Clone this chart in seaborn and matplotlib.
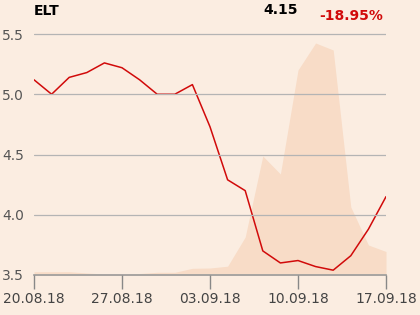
import matplotlib
matplotlib.use("Agg")
import matplotlib.pyplot as plt
import seaborn as sns
import pandas as pd
import numpy as np

# Data
price = [5.12, 5.00, 5.14, 5.18, 5.26, 5.22, 5.12, 5.00, 5.00, 5.08, 4.73,
         4.29, 4.20, 3.70, 3.60, 3.62, 3.57, 3.54, 3.66, 3.88, 4.15]
volume = [33, 33, 33, 20, 10, 10, 15, 27, 27, 67, 70,
          88, 380, 1190, 1010, 2050, 2320, 2250, 680, 300, 235]
tick_idx = [0, 5, 10, 15, 20]
tick_labels = ["20.08.18", "27.08.18", "03.09.18", "10.09.18", "17.09.18"]
y_ticks = [3.5, 4.0, 4.5, 5.0, 5.5]
ticker = "ELT"
last_price = "4.15"
change = "-18.95%"

df = pd.DataFrame({"idx": range(len(price)), "price": price, "volume": volume})

BG = "#FBEDE1"
AREA = "#F8DCC7"
RED = "#D10A0A"

sns.set_theme(style="white")
plt.rcParams['font.family'] = ['DejaVu Sans']

W, H = 420, 315
fig = plt.figure(figsize=(4.2, 3.15), dpi=100, facecolor=BG)
left, right, bottom, top = 34, 386, 275, 20
rect = [left / W, 1 - bottom / H, (right - left) / W, (bottom - top) / H]
ax2 = fig.add_axes(rect)
ax = fig.add_axes(rect, sharex=ax2)
ax2.set_facecolor(BG)
ax.patch.set_visible(False)

# Volume area (hidden axis)
ax2.fill_between(df["idx"], 0, df["volume"], color=AREA, linewidth=0)
ax2.set_ylim(0, 2550)
ax2.set_yticks([])
for s in ax2.spines.values():
    s.set_visible(False)

# Price line
sns.lineplot(data=df, x="idx", y="price", ax=ax, color=RED, linewidth=1.1)
ax.set_xlim(0, len(price) - 1)
ppx = 120.5
ax.set_ylim(3.5, 3.5 + (bottom - top) / ppx)
ax.set_yticks(y_ticks)
ax.set_yticklabels([f"{v:.1f}" for v in y_ticks])
ax.set_xticks(tick_idx)
ax.set_xticklabels(tick_labels)
ax.set_xlabel("")
ax.set_ylabel("")
ax.grid(axis="y", color="#B4B4B4", linewidth=0.9)
ax.grid(axis="x", visible=False)
ax.set_axisbelow(False)
for name, s in ax.spines.items():
    s.set_visible(name == "bottom")
ax.spines["bottom"].set_color("#999999")
ax.spines["bottom"].set_linewidth(1.2)
ax.tick_params(axis="x", direction="out", length=10, width=1, color="#888888",
               labelsize=10, labelcolor="#444444", pad=2, bottom=True)
ax.tick_params(axis="y", length=0, labelsize=10, labelcolor="#555555", pad=7)
ax2.tick_params(axis="x", bottom=False, labelbottom=False)

fig.text(34 / W, 1 - 11 / H, ticker, ha="left", va="center", fontsize=10,
         fontweight="bold", color="black")
fig.text(298 / W, 1 - 9.5 / H, last_price, ha="right", va="center", fontsize=10,
         fontweight="bold", color="black")
fig.text(319 / W, 1 - 16.5 / H, change, ha="left", va="center", fontsize=10,
         fontweight="bold", color=RED)

fig.savefig("out.png", dpi=100, facecolor=BG)
